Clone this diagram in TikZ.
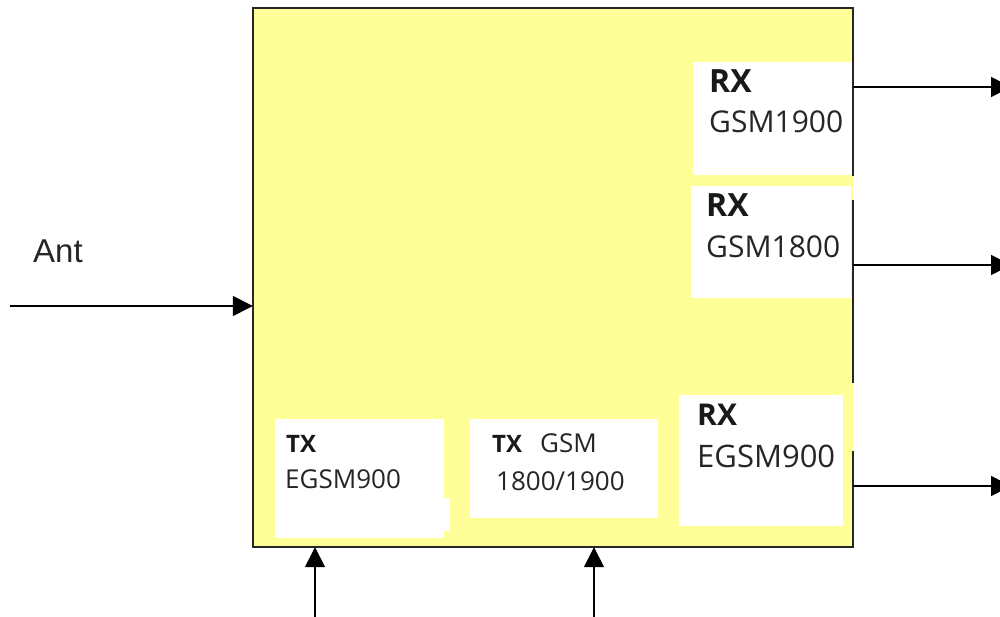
\documentclass[tikz,border=0pt]{standalone}
\usepackage{fontspec}
\setmainfont{Open Sans}
\newfontfamily\antfont{Liberation Sans}
\usetikzlibrary{arrows.meta}
\definecolor{modyellow}{HTML}{FFFF99}

\begin{document}
\begin{tikzpicture}[x=1pt,y=-1pt,>={Triangle[length=20pt,width=20pt]},
  box line/.style={line width=1.5pt,draw=black!85},
  sig line/.style={->,line width=1.5pt},
  boxtext/.style={anchor=base west,inner sep=0pt,text=black!85,font=\fontsize{#1}{#1}\selectfont},
  rxtext/.style={anchor=base west,inner sep=0pt,text=black!90,font=\fontsize{#1}{#1}\selectfont\bfseries}]

\clip (0,0) rectangle (1000,617);
\fill[white] (0,0) rectangle (1000,617);

\node[fill=modyellow, minimum width=600pt, minimum height=539pt, inner sep=0pt] (module) at (553,277.5) {};

% white blocks inside the module
\fill[white] (693,62) rectangle (852,175);
\fill[white] (691,186) rectangle (851,298);
\fill[white] (679,395) rectangle (843,526);
\fill[white] (275,419) rectangle (444,538);
\fill[white] (444,498) rectangle (450,531);
\fill[white] (470,419) rectangle (658,518);

% border, with gaps on the right side
\draw[box line] (module.east |- 0,176) -- (module.north east) -- (module.north west) -- (module.south west) -- (module.south east) -- (module.east |- 0,451);
\draw[box line] (module.east |- 0,200) -- (module.east |- 0,383);

\node[rxtext=32] (rx1900) at (709,93) {RX};
\node[boxtext=30] (gsm1900) at (709,133) {GSM1900};
\node[rxtext=32] (rx1800) at (706,217) {RX};
\node[boxtext=30] (gsm1800) at (706,258) {GSM1800};
\node[rxtext=30] (rx900) at (697,425) {RX};
\node[boxtext=31] (egsmrx) at (697,467) {EGSM900};
\node[rxtext=24] (tx900) at (286,452) {TX};
\node[boxtext=26] (egsmtx) at (285,488) {EGSM900};
\node[rxtext=24] (tx1800) at (492,452) {TX};
\node[boxtext=26] (gsmtx) at (540,452) {GSM};
\node[boxtext=26] (bandtx) at (496,490) {1800/1900};
\node[anchor=base west, inner sep=0pt, text=black!85, font=\antfont\fontsize{33}{33}\selectfont] (ant) at (33,263) {Ant};

% antenna in
\coordinate (antin) at (10,306);
\draw[sig line] (antin) -- (antin -| module.west);

% rx outputs
\coordinate (out1900) at (1011,87);
\coordinate (out1800) at (1011,265);
\coordinate (out900) at (1011,486);
\draw[sig line] (out1900 -| module.east) -- (out1900);
\draw[sig line] (out1800 -| module.east) -- (out1800);
\draw[sig line] (out900 -| module.east) -- (out900);

% tx inputs
\coordinate (txlow) at (315,617);
\coordinate (txhigh) at (594,617);
\draw[sig line] (txlow) -- (txlow |- module.south);
\draw[sig line] (txhigh) -- (txhigh |- module.south);

\end{tikzpicture}
\end{document}
